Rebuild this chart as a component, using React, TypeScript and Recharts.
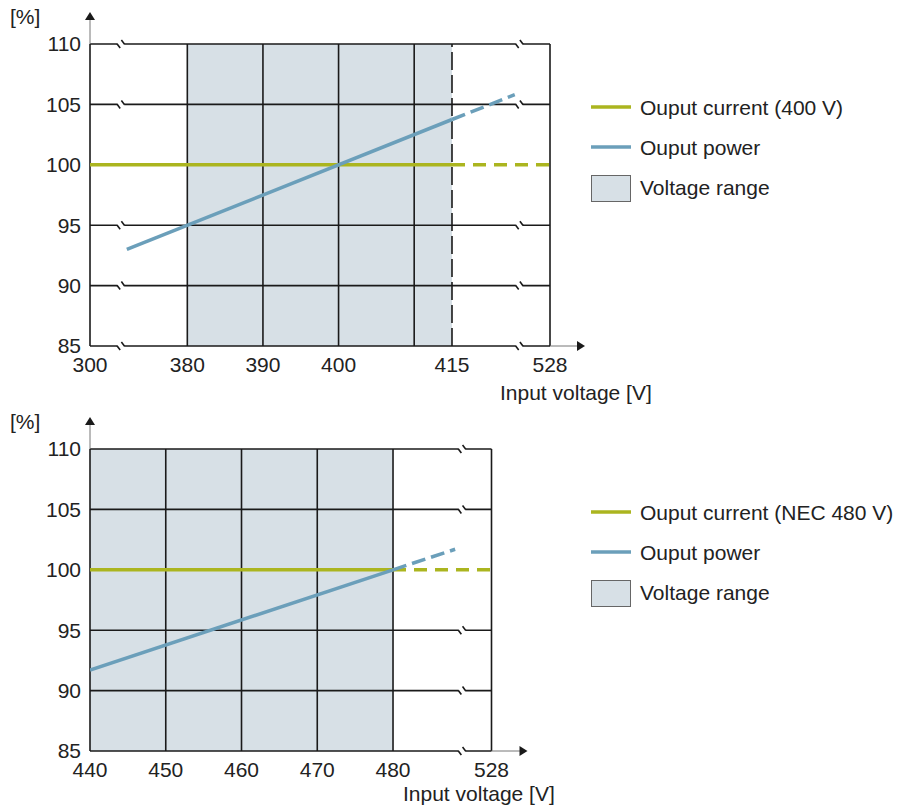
import React from 'react';
import {
  ComposedChart,
  Line,
  XAxis,
  YAxis,
  ReferenceLine,
  ReferenceArea,
  ReferenceDot,
} from 'recharts';

// ---------- data ----------
const percentTicks = [85, 90, 95, 100, 105, 110];
const innerGridPercents = [90, 95, 105];
const breakPercents = [85, 90, 95, 105, 110];

// top panel (400 V)
const topTickVoltages = [300, 380, 390, 400, 415, 528];
const topGridVoltages = [380, 390, 400, 410];
const topRangeEnd = [415];
const topShade = [380, 415];
const topCurrentSolid = [
  { v: 300, p: 100 },
  { v: 415, p: 100 },
];
const topCurrentDashed = [
  { v: 415, p: 100 },
  { v: 528, p: 100 },
];
const topPowerSolid = [
  { v: 372, p: 93 },
  { v: 415, p: 103.75 },
];
const topPowerDashed = [
  { v: 415, p: 103.75 },
  { v: 423.3, p: 105.8 },
];
const topLegend = ['Ouput current (400 V)', 'Ouput power', 'Voltage range'];

// bottom panel (NEC 480 V)
const bottomTickVoltages = [440, 450, 460, 470, 480, 528];
const bottomGridVoltages = [450, 460, 470, 480];
const bottomRangeEnd: number[] = [];
const bottomShade = [440, 480];
const bottomCurrentSolid = [
  { v: 440, p: 100 },
  { v: 480, p: 100 },
];
const bottomCurrentDashed = [
  { v: 480, p: 100 },
  { v: 528, p: 100 },
];
const bottomPowerSolid = [
  { v: 440, p: 91.7 },
  { v: 480, p: 100 },
];
const bottomPowerDashed = [
  { v: 480, p: 100 },
  { v: 488.2, p: 101.7 },
];
const bottomLegend = ['Ouput current (NEC 480 V)', 'Ouput power', 'Voltage range'];

// ---------- styles ----------
const FONT = '"Liberation Sans", Arial, sans-serif';
const FS = 21;
const GREEN = '#abb51f';
const BLUE = '#6b9fba';
const SHADE = '#d7e0e6';
const INK = '#1a1a1a';
const TEXT = '#222';

type PanelCfg = {
  top: number;
  height: number;
  margin: { top: number; right: number; bottom: number; left: number };
  domain: [number, number];
  lowLabel: number;
  highLabel: number;
  breaks: number[];
  ticks: number[];
  grid: number[];
  rangeEnd: number[];
  shade: number[];
  currentSolid: { v: number; p: number }[];
  currentDashed: { v: number; p: number }[];
  powerSolid: { v: number; p: number }[];
  powerDashed: { v: number; p: number }[];
  legend: string[];
  legendTop: number;
  xLabelDx: number;
  xLabelDy: number;
  arrowLen: number;
};

const BreakMark = (props: any) => {
  const { cx, cy } = props;
  if (cx == null || cy == null) return <g />;
  return (
    <g>
      <rect x={cx - 3.5} y={cy - 2} width={7} height={4} fill="#fff" />
      <line x1={cx - 3.8} y1={cy - 0.3} x2={cx - 0.6} y2={cy + 4} stroke={INK} strokeWidth={1.6} />
      <line x1={cx + 0.6} y1={cy - 4} x2={cx + 3.8} y2={cy + 0.3} stroke={INK} strokeWidth={1.6} />
    </g>
  );
};

const makeYArrow = () => (props: any) => {
  const { cx, cy } = props;
  if (cx == null || cy == null) return <g />;
  return (
    <g>
      <line x1={cx} y1={cy} x2={cx} y2={cy - 25} stroke="#777" strokeWidth={1} />
      <path d={`M${cx - 5},${cy - 24} L${cx + 5},${cy - 24} L${cx},${cy - 32} Z`} fill={INK} />
      <text x={cx - 80} y={cy - 20} fontFamily={FONT} fontSize={FS} fill={TEXT}>
        [%]
      </text>
    </g>
  );
};

const makeXArrow = (cfg: PanelCfg) => (props: any) => {
  const { cx, cy } = props;
  if (cx == null || cy == null) return <g />;
  return (
    <g>
      <line x1={cx} y1={cy} x2={cx + cfg.arrowLen} y2={cy} stroke="#777" strokeWidth={1} />
      <path
        d={`M${cx + cfg.arrowLen - 1},${cy - 5} L${cx + cfg.arrowLen - 1},${cy + 5} L${cx + cfg.arrowLen + 7},${cy} Z`}
        fill={INK}
      />
      <text x={cx + cfg.xLabelDx} y={cy + cfg.xLabelDy} fontFamily={FONT} fontSize={FS} fill={TEXT}>
        Input voltage [V]
      </text>
    </g>
  );
};

const Panel = ({ cfg }: { cfg: PanelCfg }) => {
  const toAxis = (v: number) =>
    v === cfg.lowLabel ? cfg.domain[0] : v === cfg.highLabel ? cfg.domain[1] : v;
  const fromAxis = (x: number) =>
    Math.abs(x - cfg.domain[0]) < 1e-6 ? cfg.lowLabel : Math.abs(x - cfg.domain[1]) < 1e-6 ? cfg.highLabel : x;
  const conv = (arr: { v: number; p: number }[]) => arr.map((d) => ({ x: toAxis(d.v), p: d.p }));
  const xTicks = cfg.ticks.map(toAxis);
  const [xMin, xMax] = cfg.domain;
  const width = 906;
  const plotRight = width - cfg.margin.right;

  return (
    <div style={{ position: 'absolute', left: 0, top: cfg.top, width, height: cfg.height }}>
      <ComposedChart width={width} height={cfg.height} margin={cfg.margin}>
        <XAxis
          type="number"
          dataKey="x"
          domain={cfg.domain}
          allowDataOverflow
          ticks={xTicks}
          interval={0}
          tickFormatter={(x: number) => String(Math.round(fromAxis(x)))}
          axisLine={false}
          tickLine={false}
          tickSize={6}
          tickMargin={5}
          height={30}
          tick={{ fontFamily: FONT, fontSize: FS, fill: TEXT }}
        />
        <YAxis
          type="number"
          domain={[85, 110]}
          ticks={percentTicks}
          interval={0}
          axisLine={false}
          tickLine={false}
          tickSize={7}
          tickMargin={2}
          width={50}
          tick={{ fontFamily: FONT, fontSize: FS, fill: TEXT }}
        />
        <ReferenceArea
          x1={toAxis(cfg.shade[0])}
          x2={toAxis(cfg.shade[1])}
          y1={85}
          y2={110}
          fill={SHADE}
          fillOpacity={1}
          stroke="none"
        />
        {innerGridPercents.map((p) => (
          <ReferenceLine key={`h${p}`} y={p} stroke={INK} strokeWidth={1.6} />
        ))}
        {cfg.grid.map((v) => (
          <ReferenceLine key={`v${v}`} x={toAxis(v)} stroke={INK} strokeWidth={1.6} />
        ))}
        {cfg.rangeEnd.map((v) => (
          <ReferenceLine key={`r${v}`} x={toAxis(v)} stroke={INK} strokeWidth={1.6} strokeDasharray="18 5" />
        ))}
        <ReferenceLine y={110} stroke={INK} strokeWidth={1.6} />
        <ReferenceLine y={85} stroke={INK} strokeWidth={1.6} />
        <ReferenceLine x={xMin} stroke={INK} strokeWidth={1.6} />
        <ReferenceLine x={xMax} stroke={INK} strokeWidth={1.6} />
        <Line
          data={conv(cfg.currentSolid)}
          dataKey="p"
          stroke={GREEN}
          strokeWidth={3.5}
          dot={false}
          isAnimationActive={false}
          type="linear"
        />
        <Line
          data={conv(cfg.currentDashed)}
          dataKey="p"
          stroke={GREEN}
          strokeWidth={3.5}
          strokeDasharray="13 8"
          dot={false}
          isAnimationActive={false}
          type="linear"
        />
        <Line
          data={conv(cfg.powerSolid)}
          dataKey="p"
          stroke={BLUE}
          strokeWidth={3.5}
          dot={false}
          isAnimationActive={false}
          type="linear"
        />
        <Line
          data={conv(cfg.powerDashed)}
          dataKey="p"
          stroke={BLUE}
          strokeWidth={3.5}
          strokeDasharray="14 6"
          dot={false}
          isAnimationActive={false}
          type="linear"
        />
        {cfg.breaks.flatMap((bx) =>
          breakPercents.map((p) => (
            <ReferenceDot
              key={`b${bx}-${p}`}
              x={bx}
              y={p}
              r={3}
              ifOverflow="visible"
              shape={BreakMark}
            />
          ))
        )}
        <ReferenceDot x={xMin} y={110} r={3} ifOverflow="visible" shape={makeYArrow()} />
        <ReferenceDot x={xMax} y={85} r={3} ifOverflow="visible" shape={makeXArrow(cfg)} />
      </ComposedChart>
      <svg
        width={320}
        height={120}
        style={{ position: 'absolute', left: 585, top: cfg.legendTop, overflow: 'visible' }}
      >
        <line x1={6} y1={12} x2={46} y2={12} stroke={GREEN} strokeWidth={3.5} />
        <text x={55} y={19.5} fontFamily={FONT} fontSize={FS} fill={TEXT}>
          {cfg.legend[0]}
        </text>
        <line x1={6} y1={52} x2={46} y2={52} stroke={BLUE} strokeWidth={3.5} />
        <text x={55} y={59.5} fontFamily={FONT} fontSize={FS} fill={TEXT}>
          {cfg.legend[1]}
        </text>
        <rect x={6.5} y={80.5} width={39} height={26} fill={SHADE} stroke="#666" strokeWidth={1} />
        <text x={55} y={100} fontFamily={FONT} fontSize={FS} fill={TEXT}>
          {cfg.legend[2]}
        </text>
      </svg>
    </div>
  );
};

const topCfg: PanelCfg = {
  top: 0,
  height: 404,
  margin: { top: 44, right: 356, bottom: 28, left: 40 },
  domain: [367.13, 427.96],
  lowLabel: 300,
  highLabel: 528,
  breaks: [371.2, 423.9],
  ticks: topTickVoltages,
  grid: topGridVoltages,
  rangeEnd: topRangeEnd,
  shade: topShade,
  currentSolid: topCurrentSolid,
  currentDashed: topCurrentDashed,
  powerSolid: topPowerSolid,
  powerDashed: topPowerDashed,
  legend: topLegend,
  legendTop: 95,
  xLabelDx: -50,
  xLabelDy: 54,
  arrowLen: 28,
};

const bottomCfg: PanelCfg = {
  top: 404,
  height: 408,
  margin: { top: 45, right: 414.5, bottom: 31, left: 40 },
  domain: [440, 493.0],
  lowLabel: 440,
  highLabel: 528,
  breaks: [489.1],
  ticks: bottomTickVoltages,
  grid: bottomGridVoltages,
  rangeEnd: bottomRangeEnd,
  shade: bottomShade,
  currentSolid: bottomCurrentSolid,
  currentDashed: bottomCurrentDashed,
  powerSolid: bottomPowerSolid,
  powerDashed: bottomPowerDashed,
  legend: bottomLegend,
  legendTop: 96,
  xLabelDx: -88.5,
  xLabelDy: 50,
  arrowLen: 29,
};

export default function App() {
  return (
    <div style={{ position: 'absolute', left: 0, top: 0, width: 906, height: 812, background: '#fff' }}>
      <Panel cfg={topCfg} />
      <Panel cfg={bottomCfg} />
    </div>
  );
}
